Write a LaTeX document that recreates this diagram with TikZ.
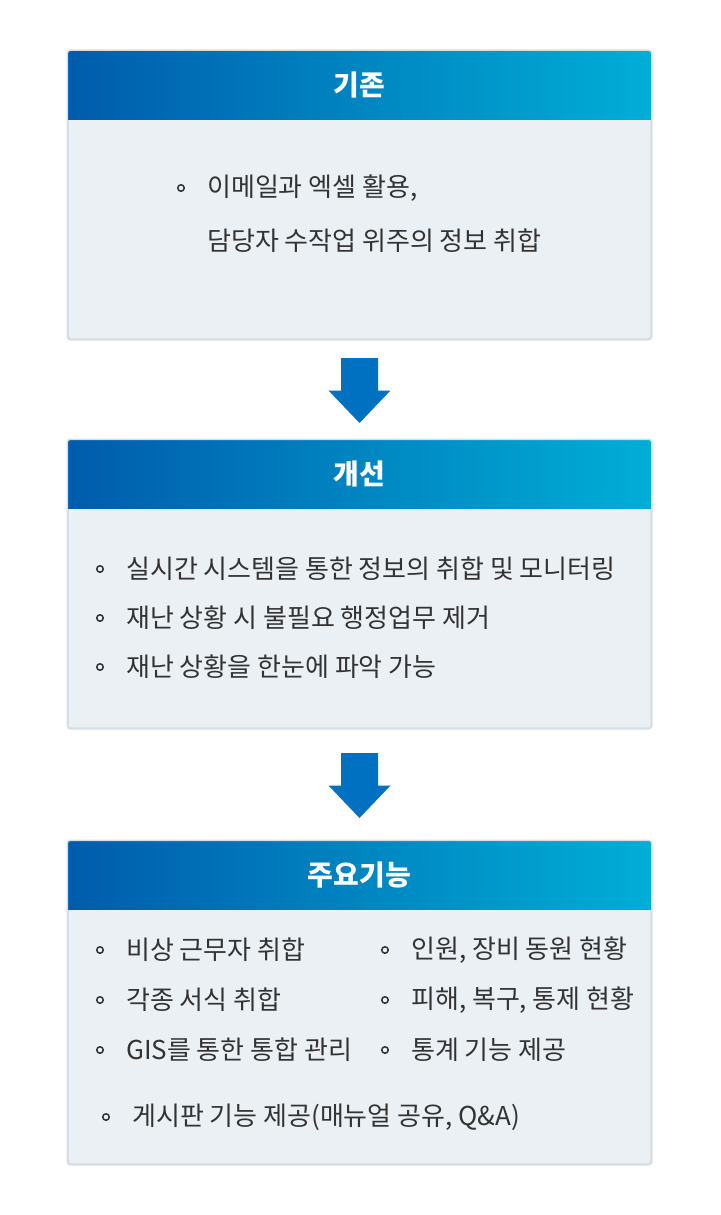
\documentclass[tikz,border=0pt]{standalone}
\usepackage{fontspec}
\setmainfont{Noto Sans CJK KR}
\usetikzlibrary{calc}
\definecolor{hdrleft}{RGB}{0,92,172}
\definecolor{hdrright}{RGB}{0,174,214}
\definecolor{panelfill}{RGB}{235,240,245}
\definecolor{panelline}{RGB}{214,221,228}
\definecolor{textgray}{RGB}{51,51,51}
\definecolor{arrowblue}{RGB}{0,112,192}
\tikzset{
  panelbox/.style={draw=panelline, line width=1.5pt, fill=panelfill, rounded corners=3pt, minimum width=583pt, inner sep=0pt},
  headtitle/.style={font=\fontsize{28}{32}\selectfont\bfseries, text=white},
  itemtext/.style={font=\fontsize{26}{30}\selectfont, text=textgray, anchor=west, inner sep=0pt},
  itemdot/.style={circle, draw=textgray, line width=1.5pt, minimum size=6.5pt, inner sep=0pt}
}

\begin{document}
\begin{tikzpicture}[x=1pt,y=-1pt]
  \useasboundingbox (0,0) rectangle (720,1215);
  % panels
  \node[panelbox, minimum height=288pt] (oldPanel) at (359.5,195) {};
  \node[panelbox, minimum height=288pt] (newPanel) at (359.5,584) {};
  \node[panelbox, minimum height=323pt] (featPanel) at (359.5,1002.5) {};
  % gradient headers
  \foreach \p in {oldPanel,newPanel,featPanel} {
    \begin{scope}
      \clip[rounded corners=3pt] (\p.north west) rectangle (\p.south east);
      \shade[left color=hdrleft, right color=hdrright] (\p.north west) rectangle ($(\p.north east)+(0,69)$);
    \end{scope}
    \draw[panelline, line width=1.5pt, rounded corners=3pt] (\p.north west) rectangle (\p.south east);
  }
  \node[headtitle] (oldTitle) at ($(oldPanel.north)+(0,34.5)$) {기존};
  \node[headtitle] (newTitle) at ($(newPanel.north)+(0,34.5)$) {개선};
  \node[headtitle] (featTitle) at ($(featPanel.north)+(0,34.5)$) {주요기능};

  % block arrows
  \foreach \a/\b in {oldPanel/newPanel,newPanel/featPanel} {
    \coordinate (mid) at ($(\a.south)!0.5!(\b.north)+(0,1)$);
    \fill[arrowblue] ($(mid)+(-18.5,-32.5)$) -- ($(mid)+(18.5,-32.5)$) -- ($(mid)+(18.5,0)$)
      -- ($(mid)+(31,0)$) -- ($(mid)+(0,32.5)$) -- ($(mid)+(-31,0)$) -- ($(mid)+(-18.5,0)$) -- cycle;
  }

  % items
  \foreach \bx/\by/\txt [count=\i] in {
      181/188/{이메일과 엑셀 활용,},
      100/569/{실시간 시스템을 통한 정보의 취합 및 모니터링},
      100/618/{재난 상황 시 불필요 행정업무 제거},
      100/667/{재난 상황을 한눈에 파악 가능},
      100/950/{비상 근무자 취합},
      100/1000/{각종 서식 취합},
      100/1050/{GIS를 통한 통합 관리},
      385/950/{인원, 장비 동원 현황},
      385/1000/{피해, 복구, 통제 현황},
      385/1050/{통계 기능 제공},
      106/1117/{게시판 기능 제공(매뉴얼 공유, Q\&A)}} {
    \node[itemdot] (dot\i) at (\bx,\by) {};
    \node[itemtext] (item\i) at (\bx+26,\by) {\txt};
  }
  \node[itemtext] (oldLine2) at ($(item1.west)+(0,53)$) {담당자 수작업 위주의 정보 취합};
\end{tikzpicture}
\end{document}
